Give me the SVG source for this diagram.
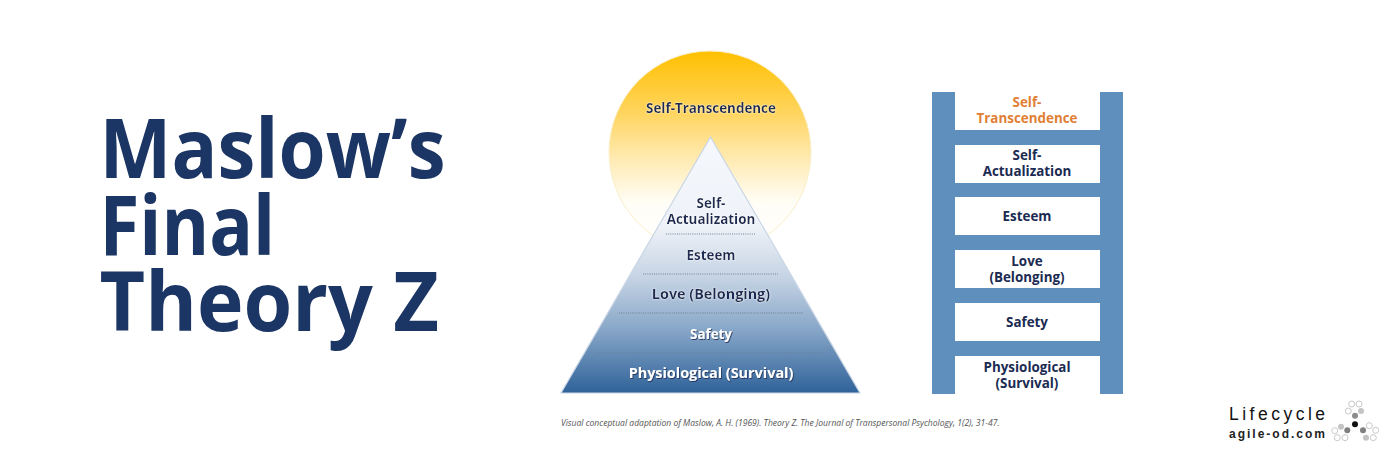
<svg xmlns="http://www.w3.org/2000/svg" width="1400" height="466" viewBox="0 0 1400 466">
<style>
text{font-family:"Open Sans","Noto Sans","Liberation Sans",sans-serif;text-anchor:middle}
.title{font-size:82px;font-weight:700;fill:#1B3564;text-anchor:start}
.lab{font-size:14.4px;font-weight:700;fill:#1B2B52}
.sm{font-size:13.4px}
.wh{fill:#fff;filter:url(#ds)}
.nv{filter:url(#gl)}
.rail{fill:#5F8FBC}
.rung{fill:#fff}
.dot{stroke:#6f7f96;stroke-width:1;stroke-dasharray:1 1.2;fill:none}
.o{fill:#fff;stroke:#c9c9c9;stroke-width:1}
</style>
<defs>
<linearGradient id="sun" x1="0" y1="0" x2="0" y2="1"><stop offset="0" stop-color="#FFC000"/><stop offset=".3" stop-color="#FFD45C"/><stop offset=".5" stop-color="#FFE7A6"/><stop offset=".75" stop-color="#FFFDF6"/><stop offset="1" stop-color="#fff"/></linearGradient>
<linearGradient id="pyr" x1="0" y1="0" x2="0" y2="1"><stop offset="0" stop-color="#F6F8FC"/><stop offset=".35" stop-color="#EEF2F8"/><stop offset=".55" stop-color="#C5D3E4"/><stop offset=".75" stop-color="#88A7C8"/><stop offset="1" stop-color="#2F6299"/></linearGradient>
<filter id="ds" x="-10%" y="-30%" width="120%" height="170%"><feDropShadow dx="0.8" dy="1" stdDeviation="0.7" flood-color="#1B2B52" flood-opacity=".85"/></filter>
<filter id="gl" x="-10%" y="-30%" width="120%" height="170%"><feDropShadow dx="0" dy="0" stdDeviation="0.8" flood-color="#fff" flood-opacity=".9"/></filter>
</defs>
<rect width="1400" height="466" fill="#fff"/>
<g id="title" transform="translate(99.5 0) scale(.93 1)"><text class="title" x="0" y="178">Maslow’s</text><text class="title" x="0" y="255" textLength="189" lengthAdjust="spacingAndGlyphs">Final</text><text class="title" x="0" y="331" textLength="365" lengthAdjust="spacingAndGlyphs">Theory Z</text></g>
<g id="self-transcendence-circle"><circle cx="710" cy="152" r="101" fill="url(#sun)" stroke="#F9EFC8" stroke-width="1"/><text class="lab sm nv" x="711" y="113">Self-Transcendence</text></g>
<g id="pyramid"><polygon points="710.5,137 860,393 561,393" fill="url(#pyr)" stroke="#C9D6E6" stroke-width="1.2"/></g>
<g id="connectors">
<line class="dot" x1="666" y1="234" x2="755" y2="234"/><line class="dot" x1="643" y1="274" x2="778" y2="274"/><line class="dot" x1="619" y1="313" x2="803" y2="313"/><line class="dot" x1="597" y1="353" x2="823" y2="353"/>
</g>
<g id="pyr-self-actualization"><text class="lab sm nv" x="711" y="208">Self-</text><text class="lab sm nv" x="711" y="224">Actualization</text></g>
<g id="pyr-esteem"><text class="lab sm nv" x="711" y="260">Esteem</text></g>
<g id="pyr-love"><text class="lab nv" x="711" y="299">Love (Belonging)</text></g>
<g id="pyr-safety"><text class="lab sm wh" x="711" y="339">Safety</text></g>
<g id="pyr-physiological"><text class="lab wh" x="711" y="378">Physiological (Survival)</text></g>
<g id="ladder"><rect class="rail" x="932" y="92" width="191" height="302"/>
<rect class="rung" x="955" y="92" width="145" height="38"/><rect class="rung" x="955" y="145" width="145" height="38"/><rect class="rung" x="955" y="197" width="145" height="38"/><rect class="rung" x="955" y="250" width="145" height="38"/><rect class="rung" x="955" y="303" width="145" height="38"/><rect class="rung" x="955" y="356" width="145" height="38"/></g>
<g id="lad-self-transcendence"><text class="lab sm" style="fill:#E07F35" x="1027" y="107">Self-</text><text class="lab sm" style="fill:#E07F35" x="1027" y="123">Transcendence</text></g>
<g id="lad-self-actualization"><text class="lab sm" x="1027" y="160">Self-</text><text class="lab sm" x="1027" y="176">Actualization</text></g>
<g id="lad-esteem"><text class="lab sm" x="1027" y="221">Esteem</text></g>
<g id="lad-love"><text class="lab sm" x="1027" y="266">Love</text><text class="lab sm" x="1027" y="282">(Belonging)</text></g>
<g id="lad-safety"><text class="lab sm" x="1027" y="327">Safety</text></g>
<g id="lad-physiological"><text class="lab sm" x="1027" y="372">Physiological</text><text class="lab sm" x="1027" y="388">(Survival)</text></g>
<g id="caption"><text x="561" y="426" style="text-anchor:start;font-size:8.55px;font-style:italic;fill:#555">Visual conceptual adaptation of Maslow, A. H. (1969). Theory Z. The Journal of Transpersonal Psychology, 1(2), 31-47.</text></g>
<g id="logo">
<text x="1229" y="420" style="text-anchor:start;font-size:17.5px;font-weight:400;letter-spacing:3.5px;fill:#111;font-family:'Liberation Sans',sans-serif">Lifecycle</text>
<text x="1229" y="438" style="text-anchor:start;font-size:12px;font-weight:700;letter-spacing:2px;fill:#222;font-family:'Liberation Sans',sans-serif">agile-od.com</text>
<circle class="o" cx="1351.7" cy="404" r="3"/><circle class="o" cx="1359" cy="404" r="3"/><circle class="o" cx="1348.3" cy="411" r="3"/><circle cx="1361" cy="411" r="3" fill="#c4c4c4"/><circle cx="1355" cy="415.7" r="3" fill="#8c8c8c"/><circle cx="1355" cy="424.3" r="3" fill="#111"/><circle cx="1341" cy="426.7" r="3" fill="#c4c4c4"/><circle cx="1347.3" cy="430.3" r="3" fill="#808080"/><circle cx="1363" cy="430.3" r="3" fill="#808080"/><circle class="o" cx="1369.3" cy="425.7" r="3"/><circle class="o" cx="1375.7" cy="430.3" r="3"/><circle cx="1366" cy="437.7" r="3" fill="#c4c4c4"/><circle class="o" cx="1373.3" cy="437.7" r="3"/><circle class="o" cx="1334.7" cy="430.7" r="3"/><circle class="o" cx="1337.3" cy="437.7" r="3"/><circle class="o" cx="1345" cy="437.7" r="3"/>
</g>
</svg>
